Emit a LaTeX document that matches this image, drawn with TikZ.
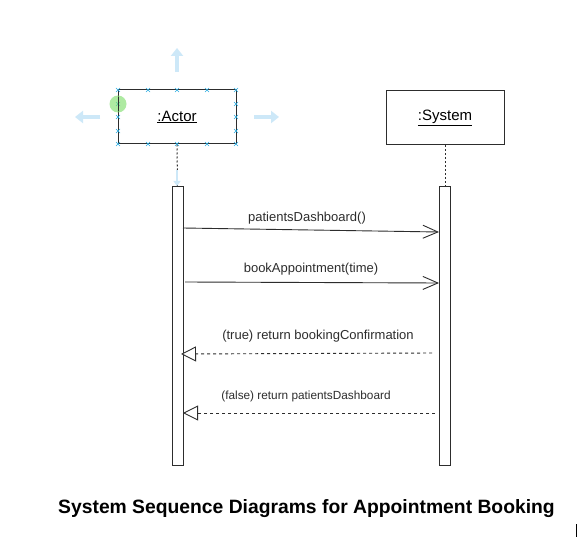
\documentclass[tikz,border=0pt]{standalone}
\usepackage{fontspec}
\setmainfont{Liberation Sans}
\usetikzlibrary{arrows.meta}
\definecolor{ln}{RGB}{45,45,45}
\definecolor{hdl}{RGB}{40,170,225}
\definecolor{ghost}{RGB}{205,232,248}
\definecolor{grn}{RGB}{120,220,100}
\begin{document}
\begin{tikzpicture}[x=1pt,y=-1pt,
  obj/.style={draw=ln,line width=1pt,fill=white,minimum width=118pt,minimum height=54pt,inner sep=0pt,font=\fontsize{15}{17}\selectfont},
  actbar/.style={draw=ln,line width=1pt,fill=white,minimum width=11pt,minimum height=278pt,inner sep=0pt},
  life/.style={draw=ln,line width=1pt,dash pattern=on 2pt off 2pt},
  msg/.style={draw=ln,line width=0.9pt,-{Straight Barb[length=15pt,width=13pt,line width=0.9pt]}},
  ret/.style={draw=ln,line width=0.9pt,dash pattern=on 3pt off 3pt,-{Triangle[open,length=15pt,width=15pt,line width=0.9pt,fill=white]}},
  lbl/.style={font=\fontsize{13}{15}\selectfont,text=ln,inner sep=0pt},
  ghostarrow/.style={ghost,line width=4pt,-{Triangle[length=8pt,width=12pt]}},
  hmark/.style={hdl,line width=0.6pt}
]
\useasboundingbox (0,0) rectangle (588,537);
\fill[white] (0,0) rectangle (588,537);

% editor handles
\draw[ghostarrow] (177,72) -- (177,48);
\draw[ghostarrow] (100,117) -- (75,117);
\draw[ghostarrow] (254,117) -- (279,117);

% objects
\node[obj] (actor) at (177,117) {\underline{:Actor}};
\node[obj] (system) at (445,118) {\underline{:System}};

% activation bars
\node[actbar] (abar) at (177.5,326) {};
\node[actbar] (sbar) at (445,326) {};

% lifelines
\draw[life] (actor.south) -- (abar.north);
\draw[life] (system.south) -- (sbar.north);
\draw[ghost,line width=1.5pt,-{Triangle[length=5pt,width=7pt]}] (177,170) -- (177,186);

% selection marks on actor box
\foreach \x in {118,148,177,207,236}{
  \foreach \y in {90,144}{
    \draw[hmark] (\x-2,\y-2) -- (\x+2,\y+2) (\x-2,\y+2) -- (\x+2,\y-2);
  }}
\foreach \y in {104,117,131}{
  \foreach \x in {118,236}{
    \draw[hmark] (\x-2,\y-2) -- (\x+2,\y+2) (\x-2,\y+2) -- (\x+2,\y-2);
  }}
\fill[grn,opacity=0.6] (118,104) circle (8.5pt);
\draw[ln,line width=1pt] (118,97) -- (118,111);

% message end points
\coordinate (m1s) at (183,228);
\coordinate (m1e) at (439,232);
\coordinate (m2s) at (185,282);
\coordinate (m2e) at (439,283);
\coordinate (r1s) at (432,353);
\coordinate (r1e) at (181,354);
\coordinate (r2s) at (435,413);
\coordinate (r2e) at (183,413);

\draw[msg] (m1s) -- (m1e);
\draw[msg] (m2s) -- (m2e);
\draw[ret] (r1s) -- (r1e);
\draw[ret] (r2s) -- (r2e);

\node[lbl] (l1) at (307,218) {patientsDashboard()};
\node[lbl] (l2) at (311,269) {bookAppointment(time)};
\node[lbl] (l3) at (318,336) {(true) return bookingConfirmation};
\node[lbl,font=\fontsize{11.8}{14}\selectfont] (l4) at (306,396) {(false) return patientsDashboard};

% title
\node[font=\bfseries\fontsize{19.3}{22}\selectfont,text=black,inner sep=0pt] (title) at (306.5,509) {System Sequence Diagrams for Appointment Booking};
\draw[black,line width=1pt] (576,524) -- (576,537);
\end{tikzpicture}
\end{document}
